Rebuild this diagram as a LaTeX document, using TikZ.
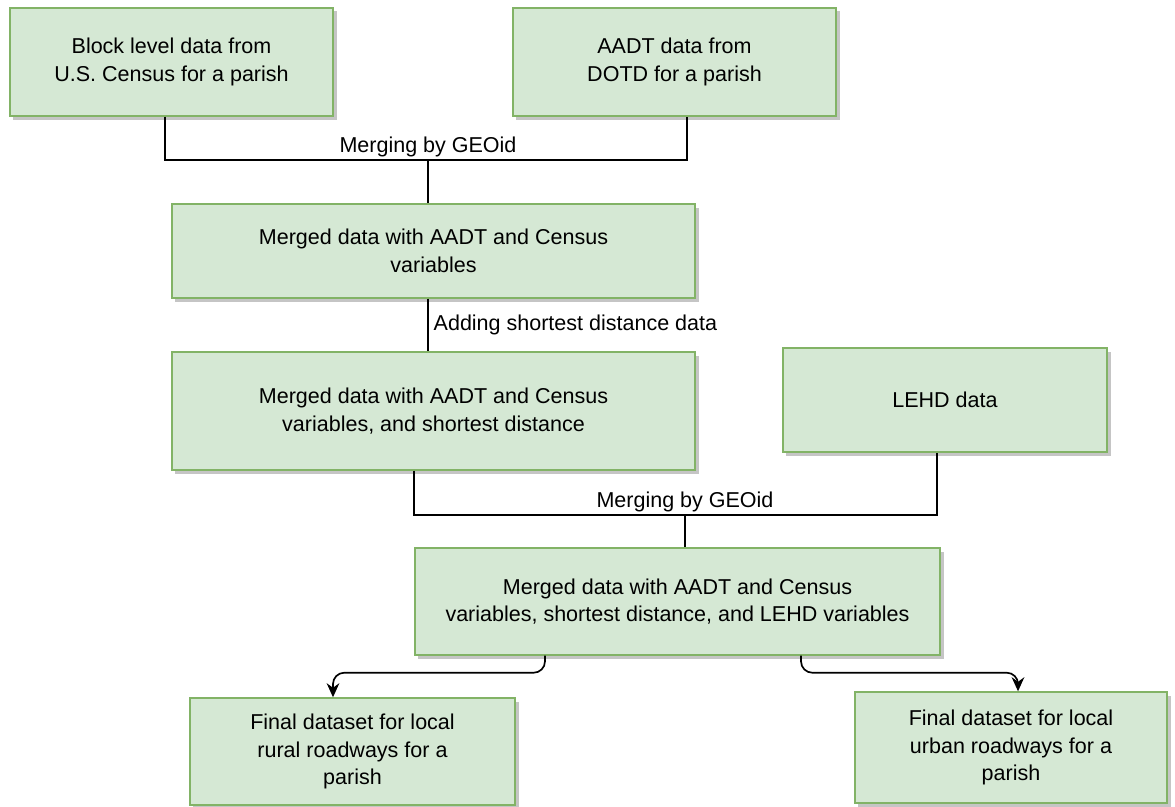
\documentclass[tikz,border=0pt]{standalone}
\usepackage{fontspec}
\setmainfont{Liberation Sans}
\usetikzlibrary{positioning, arrows.meta, shadows}
\definecolor{boxfill}{HTML}{D5E8D4}
\definecolor{boxline}{HTML}{82B366}
\tikzstyle{block}=[draw=boxline,fill=boxfill,rectangle,line width=1pt,align=center,
  drop shadow={shadow xshift=2.5pt,shadow yshift=-2.5pt,fill=black!45,opacity=0.5}]
\tikzstyle{every node}=[font=\fontsize{15.3}{19.5}\selectfont]
\tikzstyle{lbl}=[inner sep=1pt]
\tikzstyle{link}=[line width=1.2pt]

\begin{document}
\begin{tikzpicture}[x=0.025cm,y=-0.025cm,>={Stealth[length=10pt,width=9pt]}]
            \useasboundingbox (0,0) rectangle (1175,807);
            % sources
            \node[block, minimum width=8.075cm, minimum height=2.7cm] (census) at (171.5,62) {Block level data from\\U.S. Census for a parish};
            \node[block, minimum width=8.075cm, minimum height=2.7cm] (aadt) at (674.5,62) {AADT data from\\DOTD for a parish};
            \node[block, minimum width=13.075cm, minimum height=2.35cm] (merged1) at (433.5,251) {Merged data with AADT and Census\\variables};
            \node[block, minimum width=13.075cm, minimum height=2.95cm] (merged2) at (433.5,411) {Merged data with AADT and Census\\variables, and shortest distance};
            \node[block, minimum width=8.1cm, minimum height=2.6cm] (lehd) at (945,400) {LEHD data};
            \node[block, minimum width=13.125cm, minimum height=2.675cm] (merged3) at (677.5,601.5) {Merged data with AADT and Census\\variables, shortest distance, and LEHD variables};
            % results
            \node[block, minimum width=8.125cm, minimum height=2.675cm] (rural) at (352.5,751.5) {Final dataset for local\\rural roadways for a\\parish};
            \node[block, minimum width=7.8cm, minimum height=2.775cm] (urban) at (1011,747.5) {Final dataset for local\\urban roadways for a\\parish};

            \coordinate (j1) at (428,160);
            \coordinate (j2) at (685,515);
            \draw[link] ([xshift=-0.16cm]census.south) |- (j1) -| ([xshift=0.31cm]aadt.south);
            \node[lbl, above=1pt of j1] (geo1) {Merging by GEOid};
            \draw[link] (j1) -- (merged1.north -| j1);
            \draw[link] (merged1.south -| j1) -- (merged2.north -| j1);
            \node[lbl, anchor=west] (dist) at (432,325) {Adding shortest distance data};
            \draw[link] ([xshift=-0.4875cm]merged2.south) |- (j2) -| ([xshift=-0.2cm]lehd.south);
            \node[lbl, above=1pt of j2] (geo2) {Merging by GEOid};
            \draw[link] (j2) -- (merged3.north -| j2);
            \draw[link, ->, rounded corners=8pt] ([xshift=-3.3125cm]merged3.south) -- ++(0,17) -| ([xshift=-0.4875cm]rural.north);
            \draw[link, ->, rounded corners=8pt] ([xshift=3.0875cm]merged3.south) -- ++(0,17) -| ([xshift=0.175cm]urban.north);
        \end{tikzpicture}
\end{document}
